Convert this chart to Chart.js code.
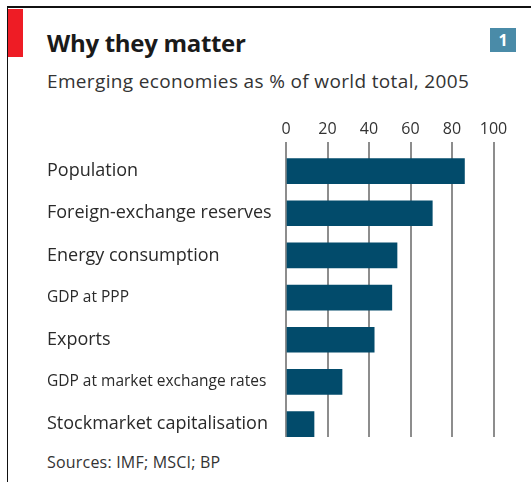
<!DOCTYPE html>
<html>
<head>
<meta charset="utf-8">
<script src="https://cdn.jsdelivr.net/npm/chart.js@4"></script>
<style>
  html, body { margin: 0; padding: 0; background: #fff; }
  body { width: 531px; height: 482px; position: relative; overflow: hidden; font-family: "Open Sans", sans-serif; color: #2a2a2a; }
  .frame-top { position: absolute; left: 7px; top: 6px; right: 0; height: 2px; background: #111; }
  .frame-left { position: absolute; left: 7px; top: 6px; bottom: 0; width: 1px; background: #111; }
  .red { position: absolute; left: 8px; top: 9px; width: 15px; height: 48px; background: #ee1c25; }
  .num { position: absolute; left: 490px; top: 28px; width: 26px; height: 24px; background: #4a8ba8; color: #fff; font-weight: bold; font-size: 16px; text-align: center; line-height: 24px; }
  h1 { position: absolute; left: 47px; top: 26px; margin: 0; font-size: 24px; font-weight: bold; color: #1a1a1a; letter-spacing: -0.3px; }
  .sub { position: absolute; left: 47px; top: 68px; font-size: 19px; letter-spacing: 0.35px; color: #333; }
  .src { position: absolute; left: 47px; top: 451px; font-size: 16px; letter-spacing: 0.2px; color: #333; }
  .wrap { position: absolute; left: 0; top: 0; width: 531px; height: 437px; overflow: hidden; }
  canvas { position: absolute; left: 0; top: 0; }
</style>
</head>
<body>
<div class="frame-top"></div>
<div class="frame-left"></div>
<div class="red"></div>
<div class="num">1</div>
<h1>Why they matter</h1>
<div class="sub">Emerging economies as % of world total, 2005</div>
<div class="wrap"><canvas id="chart" width="531" height="459"></canvas></div>
<div class="src">Sources: IMF; MSCI; BP</div>
<script>
// values
const categories = ['Population', 'Foreign-exchange reserves', 'Energy consumption', 'GDP at PPP', 'Exports', 'GDP at market exchange rates', 'Stockmarket capitalisation'];
const shares = [86, 70.5, 53.5, 51, 42.5, 27, 13.5];
const tickValues = [0, 20, 40, 60, 80, 100];

// the GDP labels use a smaller type in the original
function labelFont(context) {
    const label = categories[context.index] || '';
    return { family: 'Open Sans', size: label.startsWith('GDP') ? 15.5 : 18 };
}

const ctx = document.getElementById('chart').getContext('2d');
new Chart(ctx, {
    type: 'bar',
    data: {
        labels: categories,
        datasets: [{
            data: shares,
            backgroundColor: '#024b6b',
            borderWidth: 0,
            barThickness: 25
        }]
    },
    options: {
        indexAxis: 'y',
        responsive: false,
        animation: false,
        layout: { padding: { left: 47, right: 37.5, top: 0, bottom: 0 } },
        plugins: { legend: { display: false }, tooltip: { enabled: false } },
        scales: {
            x: {
                position: 'top',
                min: 0,
                max: 100,
                afterBuildTicks: (scale) => { scale.ticks = tickValues.map(v => ({ value: v })); },
                afterFit: (scale) => { scale.height = 150; },
                border: { display: false },
                grid: { color: '#8d8d8d', lineWidth: 2, tickLength: 8 },
                ticks: { color: '#333', font: { family: 'Open Sans', size: 16 }, padding: 3 }
            },
            y: {
                afterFit: (scale) => { scale.width = 239; },
                border: { display: false },
                grid: { display: false },
                ticks: { crossAlign: 'far', color: '#2a2a2a', font: labelFont }
            }
        }
    }
});
</script>
</body>
</html>
